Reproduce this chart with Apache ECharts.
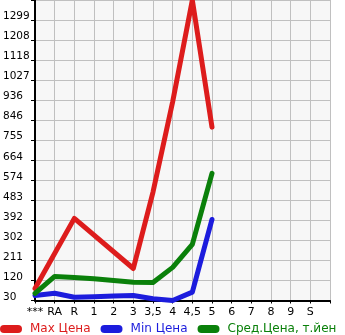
<!DOCTYPE html>
<html>
<head>
<meta charset="utf-8">
<script src="https://cdn.jsdelivr.net/npm/echarts@6/dist/echarts.min.js"></script>
<style>html,body{margin:0;padding:0;background:#fff}#c{width:345px;height:335px}</style>
</head>
<body>
<div id="c"></div>
<script>
var categories = ['***','RA','R','1','2','3','3,5','4','4,5','5','6','7','8','9','S',''];
var maxPrice = [84, null, 402, null, null, 175, 521, 930, 1390, 815];
var minPrice = [53, 63, 45, 47, 50, 53, 38, 30, 68, 397];
var avgPrice = [62, 139, 134, 128, 121, 113, 112, 180, 284, 606];
var yTickLabels = ['30','120','211','302','392','483','574','664','755','846','936','1027','1118','1208','1299',''];
var seriesNames = ['Max Цена','Min Цена','Сред.Цена, т.йен'];
var colors = ['#dd1c1c','#1c1cdd','#0a800a'];

var yMin = 30, yStep = 90.714, yCount = 15;
var font = 'DejaVu Sans';
var chart = echarts.init(document.getElementById('c'), null, {renderer:'canvas'});
function mk(name, data, color){
  return {name:name, type:'line', data:data, connectNulls:true, showSymbol:false, symbol:'none',
    lineStyle:{color:color, width:5, cap:'round', join:'round'}, itemStyle:{color:color}, animation:false};
}
chart.setOption({
  animation:false,
  grid:{left:31, right:15, top:0, bottom:34.5, show:true, backgroundColor:'#f7f7f7', borderWidth:0},
  xAxis:{type:'category', data:categories, boundaryGap:false,
    axisLine:{lineStyle:{color:'#000', width:2}},
    axisTick:{show:true, length:3, lineStyle:{color:'#000'}},
    axisLabel:{color:'#000', fontFamily:font, fontSize:11, margin:6, interval:0},
    splitLine:{show:true, lineStyle:{color:'#c0c0c0', width:1}}},
  yAxis:{type:'value', min:yMin, max:yMin+yStep*yCount, interval:yStep,
    axisLine:{show:true, lineStyle:{color:'#000', width:2}},
    axisTick:{show:true, length:4, lineStyle:{color:'#000'}},
    axisLabel:{color:'#000', fontFamily:font, fontSize:10.5, align:'left', margin:32, verticalAlign:'bottom', lineHeight:7,
      formatter:function(v, i){ return yTickLabels[i] !== undefined ? yTickLabels[i] : ''; }},
    splitLine:{show:true, lineStyle:{color:'#c0c0c0', width:1}}},
  legend:{left:0, top:323, width:600, padding:0, itemWidth:22, itemHeight:8, itemGap:10,
    icon:'path://M4,0 L18,0 A4,4 0 0 1 18,8 L4,8 A4,4 0 0 1 4,0 Z',
    data:seriesNames.map(function(n,i){return {name:n, textStyle:{color:colors[i]}};}),
    textStyle:{fontFamily:font, fontSize:12, padding:[0,0,0,3]}},
  series:[mk(seriesNames[0], maxPrice, colors[0]), mk(seriesNames[1], minPrice, colors[1]), mk(seriesNames[2], avgPrice, colors[2])]
});
</script>
</body>
</html>
